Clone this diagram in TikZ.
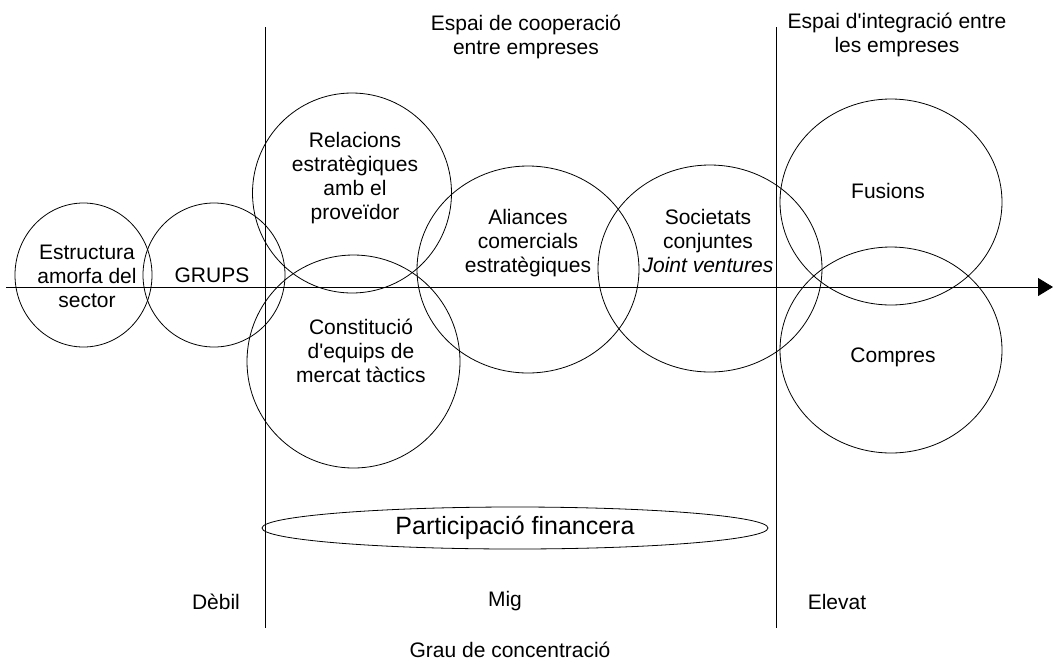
\documentclass[tikz,border=0pt]{standalone}
\usepackage{fontspec}
\setmainfont{Liberation Sans}
\usetikzlibrary{arrows.meta,shapes.geometric}
\newcommand{\apos}{\XeTeXglyph\XeTeXcharglyph"27\relax}
\begin{document}
\begin{tikzpicture}[x=1pt,y=-1pt,line width=0.8pt,
  lbl/.style={align=center,font=\fontsize{21}{24}\selectfont,inner sep=0pt},
  biglbl/.style={align=center,font=\fontsize{25}{28}\selectfont,inner sep=0pt},
  ring/.style={draw,ellipse,inner sep=0pt}]
\useasboundingbox (0,0) rectangle (1053,665);
% axis
\coordinate (ax0) at (6,287);
\coordinate (ax1) at (1053,287);
\draw[-{Triangle[length=15pt,width=18pt]}] (ax0) -- (ax1);
% vertical separators
\coordinate (v1t) at (265,27);
\coordinate (v1b) at (265,628);
\coordinate (v2t) at (776,27);
\coordinate (v2b) at (776,628);
\draw (v1t) -- (v1b);
\draw (v2t) -- (v2b);
% circles
\node[ring,minimum width=137pt,minimum height=144pt] (c1) at (83.5,275) {};
\node[ring,minimum width=142pt,minimum height=144pt] (c2) at (214,275) {};
\node[ring,minimum width=199pt,minimum height=200pt] (c3) at (352,193) {};
\node[ring,minimum width=213pt,minimum height=213pt] (c4) at (353.5,361.5) {};
\node[ring,minimum width=222pt,minimum height=207pt] (c5) at (528,269.5) {};
\node[ring,minimum width=224pt,minimum height=207pt] (c6) at (710,268.5) {};
\node[ring,minimum width=222pt,minimum height=206pt] (c7) at (891,202) {};
\node[ring,minimum width=222pt,minimum height=206pt] (c8) at (891,350) {};
\node[ring,minimum width=506pt,minimum height=42pt] (c9) at (515,528) {};
% labels
\node[lbl] (t1) at (87,276) {Estructura\\amorfa del\\sector};
\node[lbl] (t2) at (212,275) {GRUPS};
\node[lbl] (t3) at (355,178) {Relacions\\estratègiques\\amb el\\proveïdor};
\node[lbl] (t4) at (361,351) {Constitució\\d\apos equips de\\mercat tàctics};
\node[lbl] (t5) at (528,243) {Aliances\\comercials\\estratègiques};
\node[lbl] (t6) at (708,241) {Societats\\conjuntes\\\textit{Joint ventures}};
\node[lbl] (t7) at (888,191) {Fusions};
\node[lbl] (t8) at (893,357) {Compres};
\node[biglbl] (t9) at (515,528) {Participació financera};
\node[lbl] (h1) at (526,37) {Espai de cooperació\\entre empreses};
\node[lbl] (h2) at (897,35) {Espai d\apos integració entre\\les empreses};
\node[lbl] (d1) at (216,602) {Dèbil};
\node[lbl] (d2) at (505,601) {Mig};
\node[lbl] (d3) at (837,602) {Elevat};
\node[lbl] (g) at (510,650) {Grau de concentració};
\end{tikzpicture}
\end{document}
